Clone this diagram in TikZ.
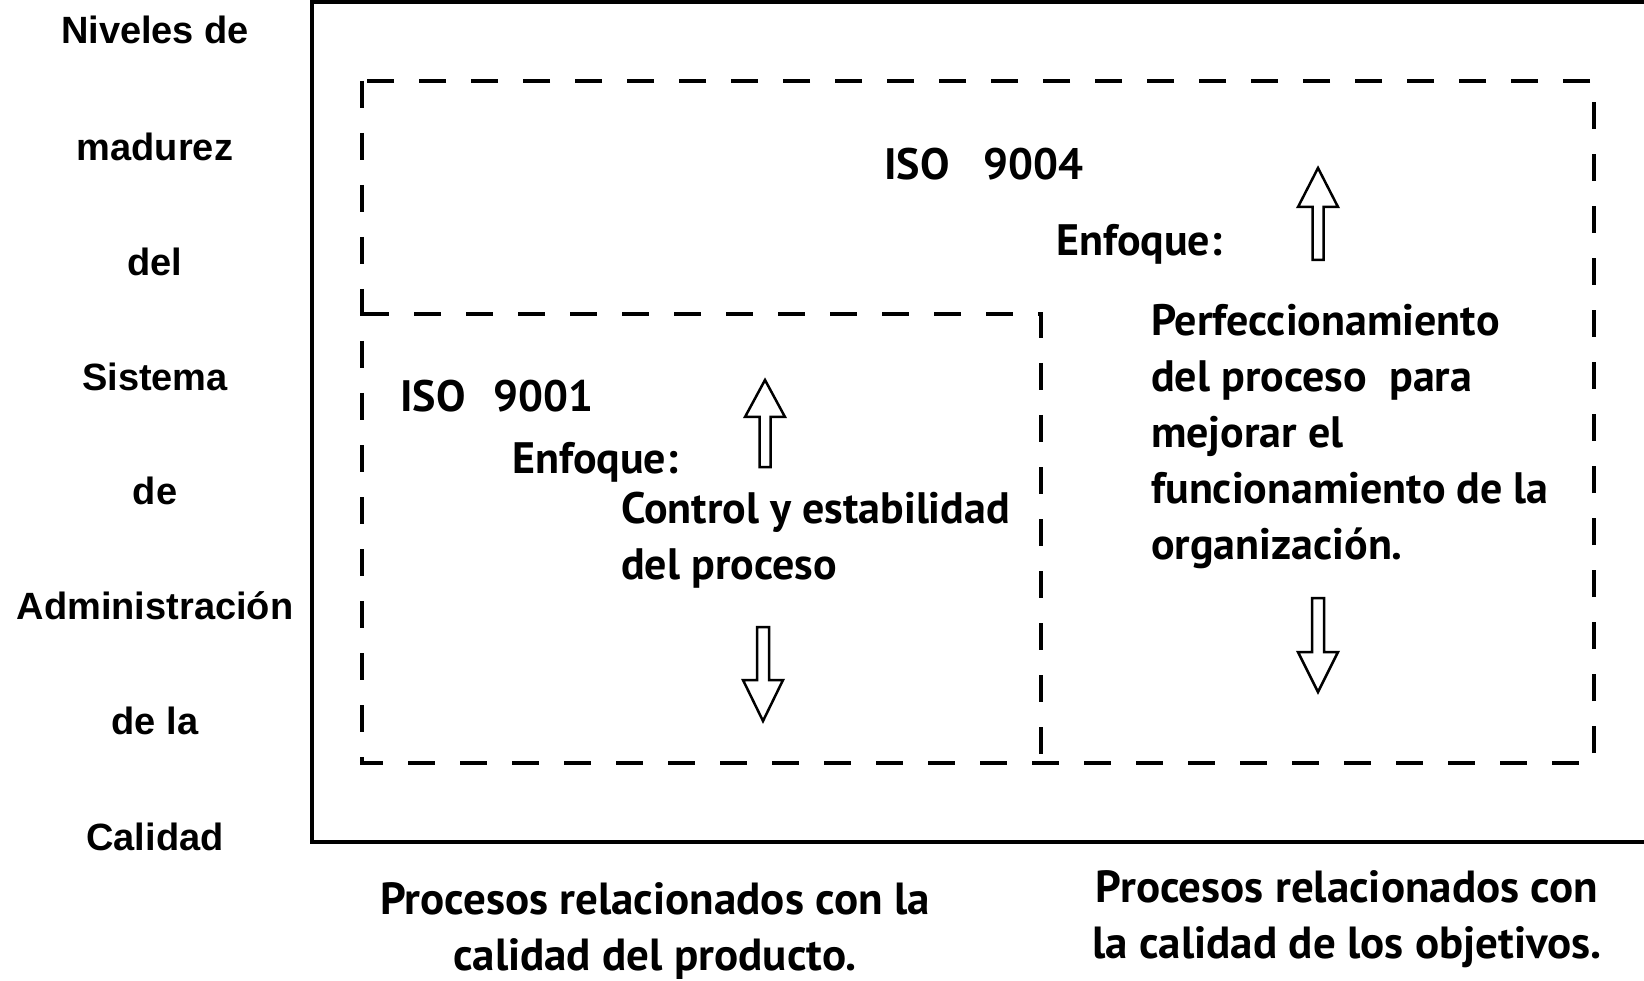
\documentclass[tikz,border=0pt]{standalone}
\usepackage{fontspec}
\setmainfont{PT Sans}
\newfontfamily\sidefont{Liberation Sans}
\begin{document}
\begin{tikzpicture}[x=1pt,y=-1pt,
  solidframe/.style={line width=4pt},
  dashframe/.style={line width=4pt, dash pattern=on 27pt off 25pt},
  blockarrow/.style={draw, line width=2.5pt, fill=white, line join=miter},
  lbl/.style={font=\bfseries\fontsize{44}{56}\selectfont, inner sep=0pt, align=left},
  botlbl/.style={font=\bfseries\fontsize{45}{56}\selectfont, inner sep=0pt, align=center},
  sidelbl/.style={font=\sidefont\bfseries\fontsize{38}{40}\selectfont, inner sep=0pt}]
\useasboundingbox (0,0) rectangle (1644,981);
% solid frame (open on the right)
\draw[solidframe] (1644,2) -- (312,2) -- (312,842) -- (1644,842);
% dashed frames
\draw[dashframe] (362,81) rectangle (1594,763);
\draw[dashframe] (362,314) -- (1041,314) -- (1041,763);
% left column
\node[sidelbl] (s1) at (155,30) {Niveles de};
\node[sidelbl] (s2) at (155,147) {madurez};
\node[sidelbl] (s3) at (155,262) {del};
\node[sidelbl] (s4) at (155,377) {Sistema};
\node[sidelbl] (s5) at (155,491) {de};
\node[sidelbl] (s6) at (155,606) {Administración};
\node[sidelbl] (s7) at (155,721) {de la};
\node[sidelbl] (s8) at (155,837) {Calidad};
% ISO 9004 area
\node[lbl, anchor=north west] (iso4) at (884,148) {ISO\hspace{34pt}9004};
\node[lbl, anchor=north west] (enf4) at (1056,224) {Enfoque:};
\node[lbl, anchor=north west] (perf) at (1151,304) {Perfeccionamiento\\del proceso\ \ para\\mejorar el\\funcionamiento de la\\organización.};
% ISO 9001 area
\node[lbl, anchor=north west] (iso1) at (400,380) {ISO\hspace{28pt}9001};
\node[lbl, anchor=north west] (enf1) at (512,442) {Enfoque:};
\node[lbl, anchor=north west] (ctrl) at (621,492) {Control y estabilidad\\del proceso};
% bottom captions
\node[botlbl, anchor=north] (b1) at (655,882) {Procesos relacionados con la\\calidad del producto.};
\node[botlbl, anchor=north] (b2) at (1347,870) {Procesos relacionados con\\la calidad de los objetivos.};
% block arrows
\draw[blockarrow] (1318,168) -- ++(20,39) -- ++(-14.5,0) -- ++(0,53) -- ++(-11,0) -- ++(0,-53) -- ++(-14.5,0) -- cycle;
\draw[blockarrow] (1318,692) -- ++(20,-40) -- ++(-14,0) -- ++(0,-54) -- ++(-12,0) -- ++(0,54) -- ++(-14,0) -- cycle;
\draw[blockarrow] (765,380) -- ++(20,37) -- ++(-14.5,0) -- ++(0,50) -- ++(-11,0) -- ++(0,-50) -- ++(-14.5,0) -- cycle;
\draw[blockarrow] (763,721) -- ++(20,-41) -- ++(-14,0) -- ++(0,-53) -- ++(-12,0) -- ++(0,53) -- ++(-14,0) -- cycle;
\end{tikzpicture}
\end{document}
